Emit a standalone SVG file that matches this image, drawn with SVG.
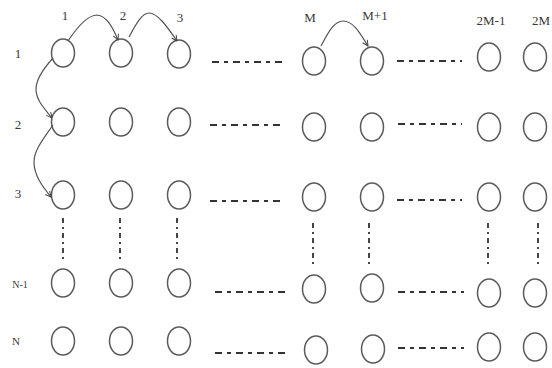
<svg xmlns="http://www.w3.org/2000/svg" width="552" height="368" viewBox="0 0 552 368">
  <style>
    .node { fill: none; stroke: #5a5a5a; stroke-width: 1.5; }
    .lbl { font-family: "Liberation Serif", "Times New Roman", serif; font-size: 13px; fill: #3a3a3a; }
    .hdash { fill: none; stroke: #333; stroke-width: 2; stroke-dasharray: 7 5 4 5; }
    .vdash { fill: none; stroke: #333; stroke-width: 1.8; stroke-dasharray: 5 4 2 4; }
    .arc { fill: none; stroke: #555; stroke-width: 1.2; }
  </style>
  <defs>
    <marker id="arrow" viewBox="0 0 10 10" refX="9" refY="5" markerWidth="7" markerHeight="7" orient="auto" markerUnits="userSpaceOnUse">
      <path d="M1,1 L9,5 L1,9" fill="none" stroke="#444" stroke-width="1.4"/>
    </marker>
    <ellipse id="cell" cx="0" cy="0" rx="11.5" ry="14"/>
  </defs>
  <rect width="552" height="368" fill="#fff"/>

  <!-- column labels -->
  <g id="col-labels" class="lbl">
    <text x="65" y="20" text-anchor="middle">1</text>
    <text x="123" y="20" text-anchor="middle">2</text>
    <text x="180" y="22" text-anchor="middle">3</text>
    <text x="310" y="22" text-anchor="middle">M</text>
    <text x="375" y="20" text-anchor="middle">M+1</text>
    <text x="491" y="25" text-anchor="middle">2M-1</text>
    <text x="532" y="25">2M</text>
  </g>

  <!-- row labels -->
  <g id="row-labels" class="lbl">
    <text x="18" y="58" text-anchor="middle">1</text>
    <text x="18" y="129" text-anchor="middle">2</text>
    <text x="18" y="198" text-anchor="middle">3</text>
    <text x="20" y="288" text-anchor="middle" font-size="10">N-1</text>
    <text x="16" y="345" text-anchor="middle" font-size="11">N</text>
  </g>

  <!-- grid nodes -->
  <g id="row-1">
    <use href="#cell" class="node" x="63" y="53"/>
    <use href="#cell" class="node" x="121" y="53"/>
    <use href="#cell" class="node" x="179" y="54"/>
    <use href="#cell" class="node" x="314" y="61"/>
    <use href="#cell" class="node" x="372" y="61"/>
    <use href="#cell" class="node" x="489" y="57"/>
    <use href="#cell" class="node" x="535" y="57"/>
  </g>
  <g id="row-2">
    <use href="#cell" class="node" x="63" y="122"/>
    <use href="#cell" class="node" x="121" y="122"/>
    <use href="#cell" class="node" x="179" y="122"/>
    <use href="#cell" class="node" x="314" y="127"/>
    <use href="#cell" class="node" x="372" y="127"/>
    <use href="#cell" class="node" x="489" y="127"/>
    <use href="#cell" class="node" x="535" y="127"/>
  </g>
  <g id="row-3">
    <use href="#cell" class="node" x="63" y="195"/>
    <use href="#cell" class="node" x="121" y="195"/>
    <use href="#cell" class="node" x="179" y="195"/>
    <use href="#cell" class="node" x="314" y="197"/>
    <use href="#cell" class="node" x="372" y="197"/>
    <use href="#cell" class="node" x="489" y="197"/>
    <use href="#cell" class="node" x="535" y="197"/>
  </g>
  <g id="row-n-1">
    <use href="#cell" class="node" x="63" y="283"/>
    <use href="#cell" class="node" x="121" y="283"/>
    <use href="#cell" class="node" x="179" y="283"/>
    <use href="#cell" class="node" x="314" y="289"/>
    <use href="#cell" class="node" x="372" y="288"/>
    <use href="#cell" class="node" x="489" y="293"/>
    <use href="#cell" class="node" x="535" y="293"/>
  </g>
  <g id="row-n">
    <use href="#cell" class="node" x="63" y="341"/>
    <use href="#cell" class="node" x="121" y="341"/>
    <use href="#cell" class="node" x="179" y="341"/>
    <use href="#cell" class="node" x="316" y="350"/>
    <use href="#cell" class="node" x="373" y="349"/>
    <use href="#cell" class="node" x="489" y="347"/>
    <use href="#cell" class="node" x="535" y="347"/>
  </g>

  <!-- connectors -->
  <g id="connectors">
    <!-- horizontal ellipsis runs -->
    <path class="hdash" d="M212,62 H284 M397,61 H462"/>
    <path class="hdash" d="M210,125 H284 M398,124 H462"/>
    <path class="hdash" d="M210,201 H284 M397,200 H462"/>
    <path class="hdash" d="M215,292 H288 M398,292 H464"/>
    <path class="hdash" d="M215,353 H288 M398,348 H464"/>
    <!-- vertical ellipsis runs -->
    <path class="vdash" d="M63,218 V260 M120,218 V260 M177,218 V260"/>
    <path class="vdash" d="M313,223 V265 M369,223 V265 M488,223 V265 M538,223 V265"/>
    <!-- traversal arrows -->
    <path class="arc" marker-end="url(#arrow)" d="M68,41 C78,26 88,15 97,15 C107,16 113,28 118,40"/>
    <path class="arc" marker-end="url(#arrow)" d="M129,37 C136,24 142,13 149,13 C158,13 168,28 177,41"/>
    <path class="arc" marker-end="url(#arrow)" d="M321,46 C328,33 334,21 343,21 C354,21 361,35 368,46"/>
    <path class="arc" marker-end="url(#arrow)" d="M53,58 C44,68 36,80 36,89 C36,100 44,108 52,118"/>
    <path class="arc" marker-end="url(#arrow)" d="M53,125 C44,138 34,150 34,162 C34,175 42,186 51,197"/>
  </g>
</svg>
